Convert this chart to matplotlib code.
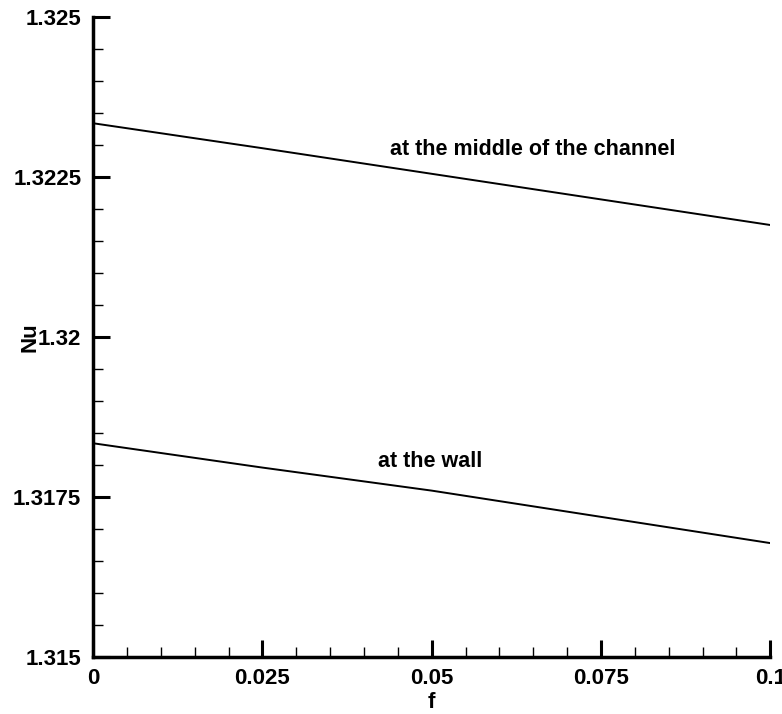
import matplotlib
matplotlib.use("Agg")
import numpy as np
import matplotlib.pyplot as plt
from matplotlib.ticker import MultipleLocator, FixedFormatter, FixedLocator

plt.rcParams['font.family'] = ['Liberation Sans', 'DejaVu Sans']
plt.rcParams['font.weight'] = 'bold'

f = [0.0, 0.025, 0.05, 0.075, 0.1]
nu_middle = [1.32334, 1.32295, 1.32255, 1.32215, 1.32175]
nu_wall = [1.31834, 1.31796, 1.31760, 1.31719, 1.31678]

x_ticks = [0, 0.025, 0.05, 0.075, 0.1]
x_labels = ['0', '0.025', '0.05', '0.075', '0.1']
y_ticks = [1.315, 1.3175, 1.32, 1.3225, 1.325]
y_labels = ['1.315', '1.3175', '1.32', '1.3225', '1.325']

fig = plt.figure(figsize=(7.82, 7.14), dpi=100)
ax = fig.add_axes([0.119, 0.0798, 0.866, 0.8964])

ax.plot(f, nu_middle, color='black', lw=1.4)
ax.plot(f, nu_wall, color='black', lw=1.4)

# curve labels
ax.text(0.0439, 1.32293, 'at the middle of the channel', fontsize=15.5,
        fontweight='bold', ha='left', va='center')
ax.text(0.0421, 1.31806, 'at the wall', fontsize=15.5,
        fontweight='bold', ha='left', va='center')

ax.set_xlim(0, 0.1)
ax.set_ylim(1.315, 1.325)
ax.xaxis.set_major_locator(FixedLocator(x_ticks))
ax.xaxis.set_major_formatter(FixedFormatter(x_labels))
ax.yaxis.set_major_locator(FixedLocator(y_ticks))
ax.yaxis.set_major_formatter(FixedFormatter(y_labels))
ax.xaxis.set_minor_locator(MultipleLocator(0.005))
ax.yaxis.set_minor_locator(MultipleLocator(0.0005))

ax.tick_params(which='major', direction='in', length=12, width=2.2,
               labelsize=16, pad=8.5)
ax.tick_params(which='minor', direction='in', length=7, width=1.0)
ax.tick_params(axis='x', pad=8)

for side in ['top', 'right']:
    ax.spines[side].set_visible(False)
for side in ['left', 'bottom']:
    ax.spines[side].set_linewidth(2.5)

ax.set_xlabel('f', fontsize=16, fontweight='bold', labelpad=2)
ax.set_ylabel('Nu', fontsize=16, fontweight='bold')
ax.yaxis.set_label_coords(-0.078, 0.5)

fig.savefig('out.png', dpi=100)
